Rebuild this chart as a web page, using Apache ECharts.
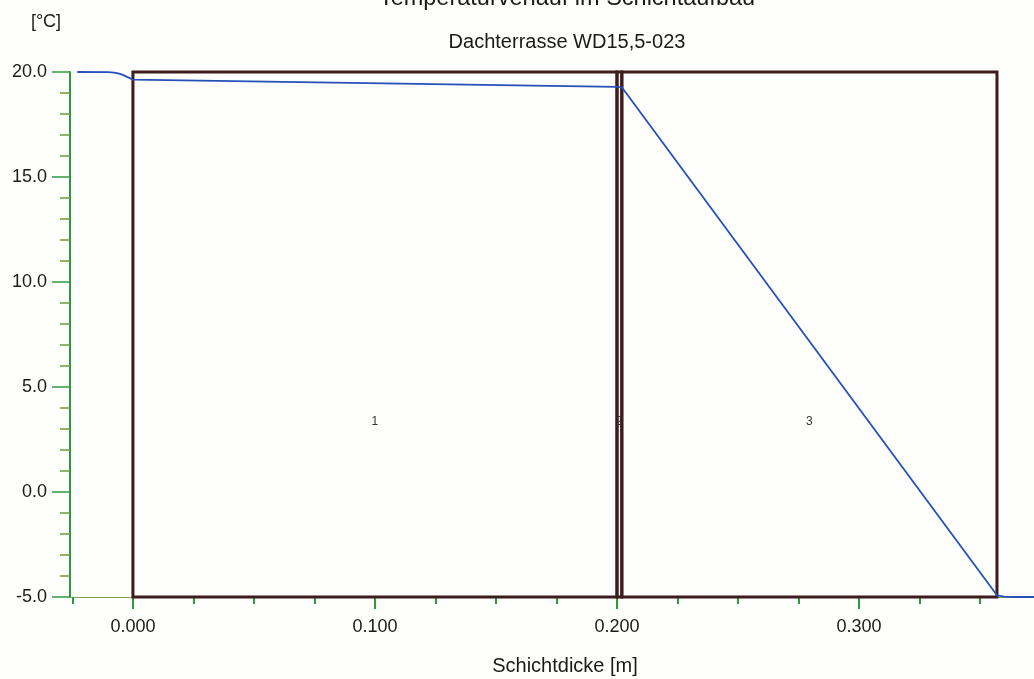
<!DOCTYPE html>
<html>
<head>
<meta charset="utf-8">
<script src="https://cdn.jsdelivr.net/npm/echarts@6/dist/echarts.min.js"></script>
<style>
  html, body { margin: 0; padding: 0; background: #fefefc; }
  #chart { width: 1034px; height: 679px; }
</style>
</head>
<body>
<div id="chart"></div>
<script>
// Layer build-up (thickness positions in m)
const layerNames = ['1', '2', '3'];
const layerStart = [0.000, 0.200, 0.202];
const layerEnd = [0.200, 0.202, 0.357];
const layerTop = 20.0;
const layerBottom = -5.0;
const layerLabelY = 3.35;

// Temperature profile through the build-up (x in m, T in °C)
const tempX = [-0.023, -0.010, -0.007, -0.005, -0.003, -0.0015, 0.000, 0.200, 0.202, 0.357, 0.360, 0.366, 0.3723];
const tempY = [20.0, 19.99, 19.96, 19.9, 19.8, 19.72, 19.64, 19.29, 19.27, -4.92, -4.98, -5.0, -5.0];

// Axis ticks and labels
const xMajorTicks = [0.000, 0.100, 0.200, 0.300];
const xMinorTicks = [-0.025, 0.025, 0.050, 0.075, 0.125, 0.150, 0.175, 0.225, 0.250, 0.275, 0.325, 0.350];
const xMin = -0.026, xMax = 0.3723;
const yMin = -5, yMax = 20, yStep = 5;

const font = '"Liberation Sans", Arial, Helvetica, sans-serif';
const green = '#2f9a3c';
const frame = '#3d1c1e';

const chart = echarts.init(document.getElementById('chart'), null, { renderer: 'canvas' });

const layerData = layerNames.map((n, i) => [layerStart[i], layerEnd[i], layerTop, layerBottom, n]);
const tempData = tempX.map((x, i) => [x, tempY[i]]);

const baseX = {
  type: 'value', min: xMin, max: xMax, position: 'bottom',
  axisLine: { show: true, onZero: false, lineStyle: { color: '#7aa050', width: 1 } },
  splitLine: { show: false }
};

chart.setOption({
  backgroundColor: '#fefefc',
  animation: false,
  graphic: [
    { type: 'text', x: 567, y: -1, style: { text: 'Temperaturverlauf im Schichtaufbau', font: '23.5px ' + font, fill: '#1a1a1a', textAlign: 'center', textVerticalAlign: 'middle' } },
    { type: 'text', x: 567, y: 42, style: { text: 'Dachterrasse WD15,5-023', font: '20px ' + font, fill: '#1a1a1a', textAlign: 'center', textVerticalAlign: 'middle' } },
    { type: 'text', x: 46, y: 22, style: { text: '[°C]', font: '18px ' + font, fill: '#1a1a1a', textAlign: 'center', textVerticalAlign: 'middle' } },
    { type: 'text', x: 565, y: 666, style: { text: 'Schichtdicke [m]', font: '20px ' + font, fill: '#1a1a1a', textAlign: 'center', textVerticalAlign: 'middle' } }
  ],
  grid: { left: 70, right: 0, top: 72, bottom: 82, containLabel: false },
  xAxis: [
    Object.assign({}, baseX, {
      axisTick: { show: true, length: 12, customValues: xMajorTicks, lineStyle: { color: green, width: 2 } },
      axisLabel: {
        show: true, customValues: xMajorTicks, margin: 21,
        formatter: v => v.toFixed(3), color: '#1a1a1a', fontSize: 18, fontFamily: font
      }
    }),
    Object.assign({}, baseX, {
      axisTick: { show: true, length: 7, customValues: xMinorTicks, lineStyle: { color: green, width: 2 } },
      axisLabel: { show: false }
    })
  ],
  yAxis: {
    type: 'value', min: yMin, max: yMax, interval: yStep, position: 'left',
    axisLine: { show: true, onZero: false, lineStyle: { color: green, width: 2 } },
    axisTick: { show: true, length: 18, lineStyle: { color: green, width: 1.5 } },
    minorTick: { show: true, splitNumber: 5, length: 10, lineStyle: { color: '#6f9a3a', width: 1.5 } },
    axisLabel: { margin: 23, formatter: v => v.toFixed(1), color: '#1a1a1a', fontSize: 18, fontFamily: font },
    splitLine: { show: false }
  },
  series: [
    {
      type: 'custom',
      xAxisIndex: 0,
      data: layerData,
      z: 2,
      renderItem: function (params, api) {
        const p0 = api.coord([api.value(0), api.value(2)]);
        const p1 = api.coord([api.value(1), api.value(3)]);
        const cx = api.coord([(api.value(0) + api.value(1)) / 2, layerLabelY]);
        return {
          type: 'group',
          children: [
            {
              type: 'rect',
              shape: { x: p0[0], y: p0[1], width: p1[0] - p0[0], height: p1[1] - p0[1] },
              style: { fill: 'none', stroke: frame, lineWidth: 3 }
            },
            {
              type: 'text',
              x: cx[0], y: cx[1],
              style: { text: layerNames[params.dataIndex], font: '12px ' + font, fill: '#333', textAlign: 'center', textVerticalAlign: 'middle' }
            }
          ]
        };
      }
    },
    {
      type: 'line',
      xAxisIndex: 0,
      data: tempData,
      z: 3,
      smooth: false,
      symbol: 'none',
      lineStyle: { color: '#2450b8', width: 1.8 }
    }
  ]
});
</script>
</body>
</html>
